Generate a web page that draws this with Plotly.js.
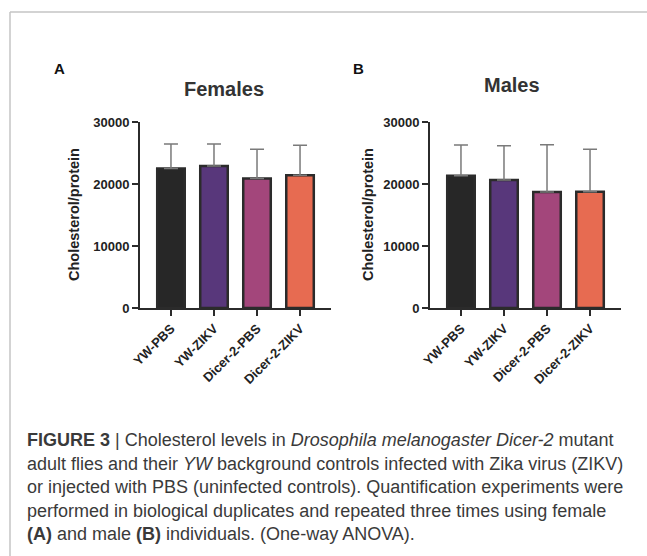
<!DOCTYPE html>
<html>
<head>
<meta charset="utf-8">
<script src="https://cdn.plot.ly/plotly-3.0.1.min.js"></script>
<style>html,body{margin:0;padding:0;background:#fff;}#plot{width:647px;height:556px;}</style>
</head>
<body>
<div id="plot"></div>
<script>
// ---- data ----
var categories = ["YW-PBS", "YW-ZIKV", "Dicer-2-PBS", "Dicer-2-ZIKV"];
var femalesMean = [22500, 22900, 20900, 21400];
var femalesUpper = [26450, 26450, 25600, 26250];
var malesMean = [21350, 20650, 18700, 18750];
var malesUpper = [26300, 26150, 26350, 25600];
var barColors = ["#272727", "#58377b", "#a3467b", "#e76b51"];
var yTicks = [0, 10000, 20000, 30000];
var captionLines = [
  "<b>FIGURE 3</b> | Cholesterol levels in <i>Drosophila melanogaster Dicer-2</i> mutant",
  "adult flies and their <i>YW</i> background controls infected with Zika virus (ZIKV)",
  "or injected with PBS (uninfected controls). Quantification experiments were",
  "performed in biological duplicates and repeated three times using female",
  "<b>(A)</b> and male <b>(B)</b> individuals. (One-way ANOVA)."
];

var W = 647, H = 556;
function px(x){ return x / W; }
function py(y){ return 1 - y / H; }

function diff(a, b){ return a.map(function(v, i){ return v - b[i]; }); }
function zeros(a){ return a.map(function(){ return 0; }); }

var FONT = "Liberation Sans, Arial, Helvetica, sans-serif";

function barTrace(means, uppers, xa, ya){
  return {
    type: "bar", x: categories, y: means, xaxis: xa, yaxis: ya,
    width: 0.64,
    marker: {color: barColors, line: {color: "#2b2b2b", width: 2.5}},
    error_y: {type: "data", symmetric: false, array: diff(uppers, means), arrayminus: zeros(means),
              color: "#7a7a7a", thickness: 1.5, width: 7},
    hoverinfo: "none", showlegend: false
  };
}

var data = [
  barTrace(femalesMean, femalesUpper, "x", "y"),
  barTrace(malesMean, malesUpper, "x2", "y2")
];

function xaxisDef(domain){
  return {
    domain: domain, range: [-0.72, 3.72], type: "category", fixedrange: true,
    showline: true, linecolor: "#2b2b2b", linewidth: 2, showgrid: false, zeroline: false,
    ticks: "outside", ticklen: 6, tickwidth: 2, tickcolor: "#2b2b2b",
    tickangle: -45, tickfont: {family: FONT, size: 13, color: "#222", weight: 700}
  };
}
function yaxisDef(anchor){
  return {
    domain: [py(308), py(122)], range: [0, 30000], anchor: anchor, fixedrange: true,
    showline: true, linecolor: "#2b2b2b", linewidth: 2, showgrid: false, zeroline: false,
    ticks: "outside", ticklen: 6, tickwidth: 2, tickcolor: "#2b2b2b",
    tickmode: "array", tickvals: yTicks, ticktext: yTicks.map(String),
    tickfont: {family: FONT, size: 13, color: "#222", weight: 700}
  };
}

var x1 = xaxisDef([px(140), px(331)]); x1.anchor = "y";
var x2 = xaxisDef([px(430), px(621)]); x2.anchor = "y2";

function label(t, x, y, size, color, angle){
  return {text: t, x: px(x), y: py(y), xref: "paper", yref: "paper", xanchor: "center", yanchor: "middle",
    showarrow: false, textangle: angle || 0, font: {family: FONT, size: size, color: color}};
}

var annotations = [
  label("<b>A</b>", 59, 68, 15, "#111"),
  label("<b>B</b>", 358, 68, 15, "#111"),
  label("<b>Females</b>", 224, 89, 20, "#333"),
  label("<b>Males</b>", 512, 85, 20, "#333"),
  label("<b>Cholesterol/protein</b>", 74, 215, 14.5, "#222", -90),
  label("<b>Cholesterol/protein</b>", 368, 215, 14.5, "#222", -90)
];
var capY = [440, 463.5, 487, 510.5, 534];
captionLines.forEach(function(t, i){
  annotations.push({text: t, x: px(25), y: py(capY[i]), xref: "paper", yref: "paper", xanchor: "left", yanchor: "middle",
    showarrow: false, font: {family: FONT, size: 18, color: "#3a3a3a"}});
});

var layout = {
  width: W, height: H, margin: {l: 0, r: 0, t: 0, b: 0},
  paper_bgcolor: "#fff", plot_bgcolor: "rgba(0,0,0,0)",
  xaxis: x1, yaxis: yaxisDef("x"), xaxis2: x2, yaxis2: yaxisDef("x2"),
  annotations: annotations,
  shapes: [
    {type: "line", xref: "paper", yref: "paper", x0: px(10), x1: 1, y0: py(12), y1: py(12), line: {color: "#c4c4c4", width: 1.5}},
    {type: "line", xref: "paper", yref: "paper", x0: px(10), x1: px(10), y0: py(12), y1: 0, line: {color: "#c4c4c4", width: 1.5}}
  ]
};

Plotly.newPlot("plot", data, layout, {displayModeBar: false, staticPlot: true});
</script>
</body>
</html>
